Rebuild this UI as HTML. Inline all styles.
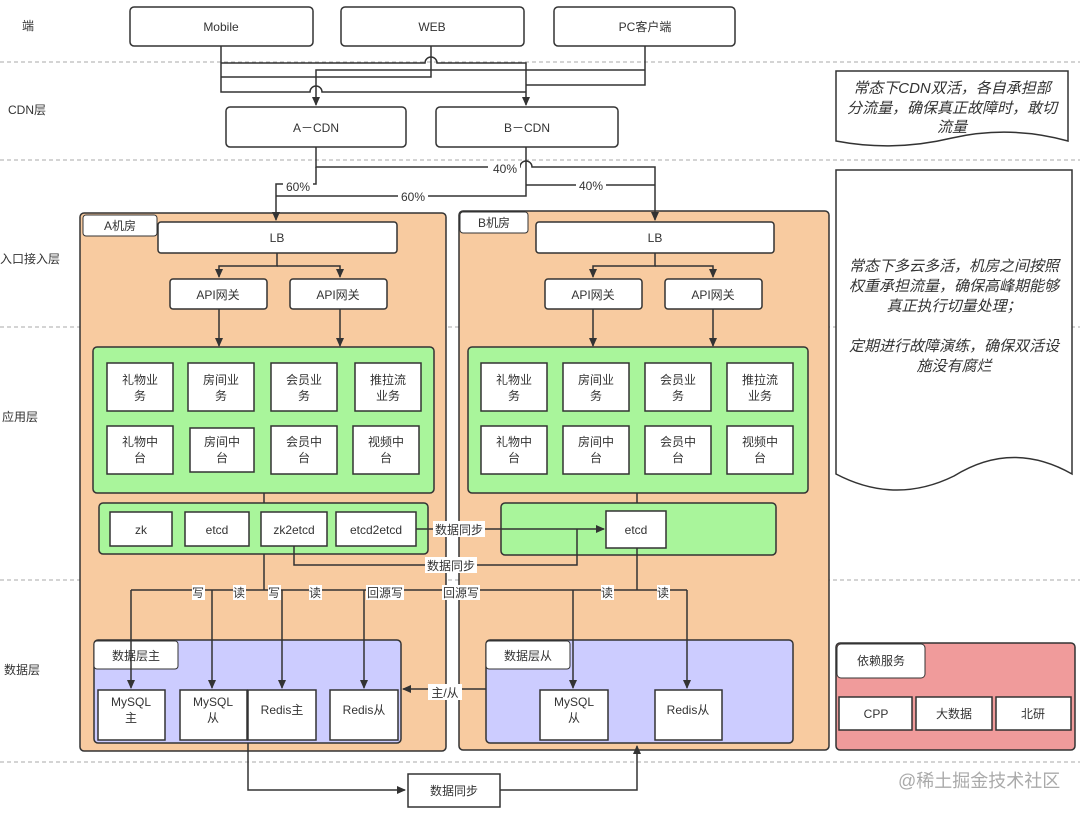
<!DOCTYPE html>
<html><head><meta charset="utf-8"><style>
html,body{margin:0;padding:0;background:#fff;width:1080px;height:813px;overflow:hidden}
text{font-family:"Liberation Sans","Noto Sans CJK SC",sans-serif;fill:#333;font-size:12px}
</style></head><body>
<svg width="1080" height="813" viewBox="0 0 1080 813" xmlns="http://www.w3.org/2000/svg">
<defs>
<marker id="a" markerWidth="10" markerHeight="10" refX="8" refY="5" orient="auto" markerUnits="userSpaceOnUse"><path d="M0,1 L9,5 L0,9 Z" fill="#333"/></marker>
</defs>
<g stroke="#aaa" stroke-dasharray="4,3" stroke-width="1">
<line x1="0" y1="62" x2="1080" y2="62"/><line x1="0" y1="160" x2="1080" y2="160"/>
<line x1="0" y1="327" x2="1080" y2="327"/><line x1="0" y1="580" x2="1080" y2="580"/>
<line x1="0" y1="762" x2="1080" y2="762"/>
</g>
<text x="22" y="30">端</text><text x="8" y="114">CDN层</text><text x="0" y="263">入口接入层</text>
<text x="2" y="421">应用层</text><text x="4" y="674">数据层</text>

<!-- rooms -->
<rect x="80" y="213" width="366" height="538" rx="4" fill="#f8cba0" stroke="#333" stroke-width="1.5"/>
<rect x="459" y="211" width="370" height="539" rx="4" fill="#f8cba0" stroke="#333" stroke-width="1.5"/>
<rect x="83" y="215" width="74" height="21" rx="3" fill="#fff" stroke="#333"/><text x="120" y="230" text-anchor="middle">A机房</text>
<rect x="460" y="212" width="68" height="21" rx="3" fill="#fff" stroke="#333"/><text x="494" y="227" text-anchor="middle">B机房</text>

<g fill="#fff" stroke="#333" stroke-width="1.5">
<rect x="130" y="7" width="183" height="39" rx="4"/><rect x="341" y="7" width="183" height="39" rx="4"/><rect x="554" y="7" width="181" height="39" rx="4"/>
<rect x="226" y="107" width="180" height="40" rx="4"/><rect x="436" y="107" width="182" height="40" rx="4"/>
<rect x="158" y="222" width="239" height="31" rx="3"/><rect x="536" y="222" width="238" height="31" rx="3"/>
<rect x="170" y="279" width="97" height="30" rx="3"/><rect x="290" y="279" width="97" height="30" rx="3"/>
<rect x="545" y="279" width="97" height="30" rx="3"/><rect x="665" y="279" width="97" height="30" rx="3"/>
</g>
<g text-anchor="middle">
<text x="221" y="31">Mobile</text><text x="432" y="31">WEB</text><text x="645" y="31">PC客户端</text>
<text x="316" y="132">A－CDN</text><text x="527" y="132">B－CDN</text>
<text x="277" y="242">LB</text><text x="655" y="242">LB</text>
<text x="218" y="299">API网关</text><text x="338" y="299">API网关</text>
<text x="593" y="299">API网关</text><text x="713" y="299">API网关</text>
</g>

<!-- top connectors -->
<g fill="none" stroke="#333" stroke-width="1.5">
<path d="M221 46 V92 H310 a6 6 0 0 1 12 0 H526"/>
<path d="M221 63 H425 a6 6 0 0 1 12 0 H526 V105" marker-end="url(#a)"/>
<path d="M431 46 V77 H221"/>
<path d="M645 46 V85 H526"/>
<path d="M645 70 H316 V105" marker-end="url(#a)"/>
<path d="M316 147 V167 H520 a6 6 0 0 1 12 0 H655 V220" marker-end="url(#a)"/>
<path d="M316 167 V184 H276 V220" marker-end="url(#a)"/>
<path d="M526 147 V196 H276"/>
<path d="M526 185 H655"/>
<path d="M277 253 V266 H219 V277" marker-end="url(#a)"/><path d="M277 266 H340 V277" marker-end="url(#a)"/>
<path d="M655 253 V266 H593 V277" marker-end="url(#a)"/><path d="M655 266 H713 V277" marker-end="url(#a)"/>
<path d="M219 309 V346" marker-end="url(#a)"/><path d="M340 309 V346" marker-end="url(#a)"/>
<path d="M593 309 V346" marker-end="url(#a)"/><path d="M713 309 V346" marker-end="url(#a)"/>
</g>
<g text-anchor="middle">
<rect x="488" y="161" width="32" height="14" fill="#fff"/><text x="505" y="173">40%</text>
<rect x="283" y="180" width="30" height="14" fill="#fff"/><text x="298" y="191">60%</text>
<rect x="398" y="190" width="30" height="14" fill="#fff"/><text x="413" y="201">60%</text>
<rect x="576" y="179" width="30" height="14" fill="#fff"/><text x="591" y="190">40%</text>
</g>

<!-- app layer -->
<rect x="93" y="347" width="341" height="146" rx="4" fill="#a9f59b" stroke="#333" stroke-width="1.5"/>
<rect x="468" y="347" width="340" height="146" rx="4" fill="#a9f59b" stroke="#333" stroke-width="1.5"/>
<g fill="#fff" stroke="#333" stroke-width="1.5">
<rect x="107" y="363" width="66" height="48"/><rect x="188" y="363" width="66" height="48"/><rect x="271" y="363" width="66" height="48"/><rect x="355" y="363" width="66" height="48"/>
<rect x="107" y="426" width="66" height="48"/><rect x="190" y="428" width="64" height="44"/><rect x="271" y="426" width="66" height="48"/><rect x="353" y="426" width="66" height="48"/>
<rect x="481" y="363" width="66" height="48"/><rect x="563" y="363" width="66" height="48"/><rect x="645" y="363" width="66" height="48"/><rect x="727" y="363" width="66" height="48"/>
<rect x="481" y="426" width="66" height="48"/><rect x="563" y="426" width="66" height="48"/><rect x="645" y="426" width="66" height="48"/><rect x="727" y="426" width="66" height="48"/>
</g>
<g text-anchor="middle">
<text x="140" y="384">礼物业</text><text x="140" y="400">务</text>
<text x="221" y="384">房间业</text><text x="221" y="400">务</text>
<text x="304" y="384">会员业</text><text x="304" y="400">务</text>
<text x="388" y="384">推拉流</text><text x="388" y="400">业务</text>
<text x="140" y="446">礼物中</text><text x="140" y="462">台</text>
<text x="222" y="446">房间中</text><text x="222" y="462">台</text>
<text x="304" y="446">会员中</text><text x="304" y="462">台</text>
<text x="386" y="446">视频中</text><text x="386" y="462">台</text>
<text x="514" y="384">礼物业</text><text x="514" y="400">务</text>
<text x="596" y="384">房间业</text><text x="596" y="400">务</text>
<text x="678" y="384">会员业</text><text x="678" y="400">务</text>
<text x="760" y="384">推拉流</text><text x="760" y="400">业务</text>
<text x="514" y="446">礼物中</text><text x="514" y="462">台</text>
<text x="596" y="446">房间中</text><text x="596" y="462">台</text>
<text x="678" y="446">会员中</text><text x="678" y="462">台</text>
<text x="760" y="446">视频中</text><text x="760" y="462">台</text>
</g>

<!-- registry -->
<path d="M264 493 V503 M637 493 V503" stroke="#333" stroke-width="1.5"/>
<rect x="99" y="503" width="329" height="51" rx="4" fill="#a9f59b" stroke="#333" stroke-width="1.5"/>
<rect x="501" y="503" width="275" height="52" rx="4" fill="#a9f59b" stroke="#333" stroke-width="1.5"/>
<g fill="#fff" stroke="#333" stroke-width="1.5">
<rect x="110" y="512" width="62" height="34"/><rect x="185" y="512" width="64" height="34"/><rect x="261" y="512" width="66" height="34"/><rect x="336" y="512" width="80" height="34"/>
<rect x="606" y="511" width="60" height="37"/>
</g>
<g text-anchor="middle">
<text x="141" y="534">zk</text><text x="217" y="534">etcd</text><text x="294" y="534">zk2etcd</text><text x="376" y="534">etcd2etcd</text><text x="636" y="534">etcd</text>
</g>

<!-- data layer -->
<rect x="94" y="640" width="307" height="103" rx="4" fill="#ccccff" stroke="#333" stroke-width="1.5"/>
<rect x="486" y="640" width="307" height="103" rx="4" fill="#ccccff" stroke="#333" stroke-width="1.5"/>
<rect x="94" y="641" width="84" height="28" rx="3" fill="#fff" stroke="#333"/><text x="136" y="660" text-anchor="middle">数据层主</text>
<rect x="486" y="641" width="84" height="28" rx="3" fill="#fff" stroke="#333"/><text x="528" y="660" text-anchor="middle">数据层从</text>

<g fill="none" stroke="#333" stroke-width="1.5">
<path d="M416 529 H604" marker-end="url(#a)"/>
<path d="M294 546 V565 H577 V529"/>
<path d="M264 554 V590"/><path d="M637 548 V590"/>
<path d="M131 590 H687"/>
<path d="M131 590 V688" marker-end="url(#a)"/><path d="M212 590 V688" marker-end="url(#a)"/>
<path d="M282 590 V688" marker-end="url(#a)"/><path d="M364 590 V688" marker-end="url(#a)"/>
<path d="M573 590 V688" marker-end="url(#a)"/><path d="M687 590 V688" marker-end="url(#a)"/>
<path d="M486 689 H403" marker-end="url(#a)"/>
<path d="M248 743 V790 H405" marker-end="url(#a)"/>
<path d="M500 790 H637 V746" marker-end="url(#a)"/>
</g>
<g text-anchor="middle">
<rect x="433" y="521" width="52" height="16" fill="#fff"/><text x="459" y="534">数据同步</text>
<rect x="425" y="557" width="52" height="16" fill="#fff"/><text x="451" y="570">数据同步</text>
<g fill="#fff"><rect x="192" y="585" width="13" height="15"/><rect x="233" y="585" width="13" height="15"/><rect x="268" y="585" width="13" height="15"/><rect x="309" y="585" width="13" height="15"/><rect x="366" y="585" width="38" height="15"/><rect x="442" y="585" width="38" height="15"/><rect x="601" y="585" width="13" height="15"/><rect x="657" y="585" width="13" height="15"/></g>
<text x="198" y="597">写</text><text x="239" y="597">读</text><text x="274" y="597">写</text><text x="315" y="597">读</text>
<text x="385" y="597">回源写</text><text x="461" y="597">回源写</text><text x="607" y="597">读</text><text x="663" y="597">读</text>
</g>

<g fill="#fff" stroke="#333" stroke-width="1.5">
<rect x="98" y="690" width="67" height="50"/><rect x="180" y="690" width="67" height="50"/><rect x="248" y="690" width="68" height="50"/><rect x="330" y="690" width="68" height="50"/>
<rect x="540" y="690" width="68" height="50"/><rect x="655" y="690" width="67" height="50"/>
<rect x="408" y="774" width="92" height="33"/>
</g>
<g text-anchor="middle">
<text x="131" y="706">MySQL</text><text x="131" y="722">主</text>
<text x="213" y="706">MySQL</text><text x="213" y="722">从</text>
<text x="282" y="714">Redis主</text><text x="364" y="714">Redis从</text>
<text x="574" y="706">MySQL</text><text x="574" y="722">从</text>
<text x="688" y="714">Redis从</text>
<rect x="428" y="684" width="34" height="16" fill="#fff"/><text x="445" y="697">主/从</text>
<text x="454" y="795">数据同步</text>
</g>

<!-- notes -->
<path d="M836 71 H1068 V141 Q1010 125 952 138 Q894 152 836 141 Z" fill="#fff" stroke="#333" stroke-width="1.5"/>
<g text-anchor="middle">
<text x="952" y="93" style="font-size:15px;font-style:italic">常态下CDN双活，各自承担部</text>
<text x="952" y="113" style="font-size:15px;font-style:italic">分流量，确保真正故障时，敢切</text>
<text x="952" y="132" style="font-size:15px;font-style:italic">流量</text>
</g>
<path d="M836 170 H1072 V474 Q1012 440 954 476 Q895 505 836 474 Z" fill="#fff" stroke="#333" stroke-width="1.5"/>
<g text-anchor="middle">
<text x="954" y="271" style="font-size:15px;font-style:italic">常态下多云多活，机房之间按照</text>
<text x="954" y="291" style="font-size:15px;font-style:italic">权重承担流量，确保高峰期能够</text>
<text x="954" y="311" style="font-size:15px;font-style:italic">真正执行切量处理；</text>
<text x="954" y="351" style="font-size:15px;font-style:italic">定期进行故障演练，确保双活设</text>
<text x="954" y="371" style="font-size:15px;font-style:italic">施没有腐烂</text>
</g>

<rect x="836" y="643" width="239" height="107" rx="4" fill="#f09b9b" stroke="#333" stroke-width="1.5"/>
<rect x="837" y="644" width="88" height="34" rx="4" fill="#fff" stroke="#333"/><text x="881" y="665" text-anchor="middle">依赖服务</text>
<g fill="#fff" stroke="#333" stroke-width="1.5">
<rect x="839" y="697" width="73" height="33"/><rect x="916" y="697" width="76" height="33"/><rect x="996" y="697" width="75" height="33"/>
</g>
<g text-anchor="middle"><text x="876" y="718">CPP</text><text x="954" y="718">大数据</text><text x="1033" y="718">北研</text></g>
<text x="898" y="787" style="font-size:18px;fill:#aaa">@稀土掘金技术社区</text>
</svg>
</body></html>
